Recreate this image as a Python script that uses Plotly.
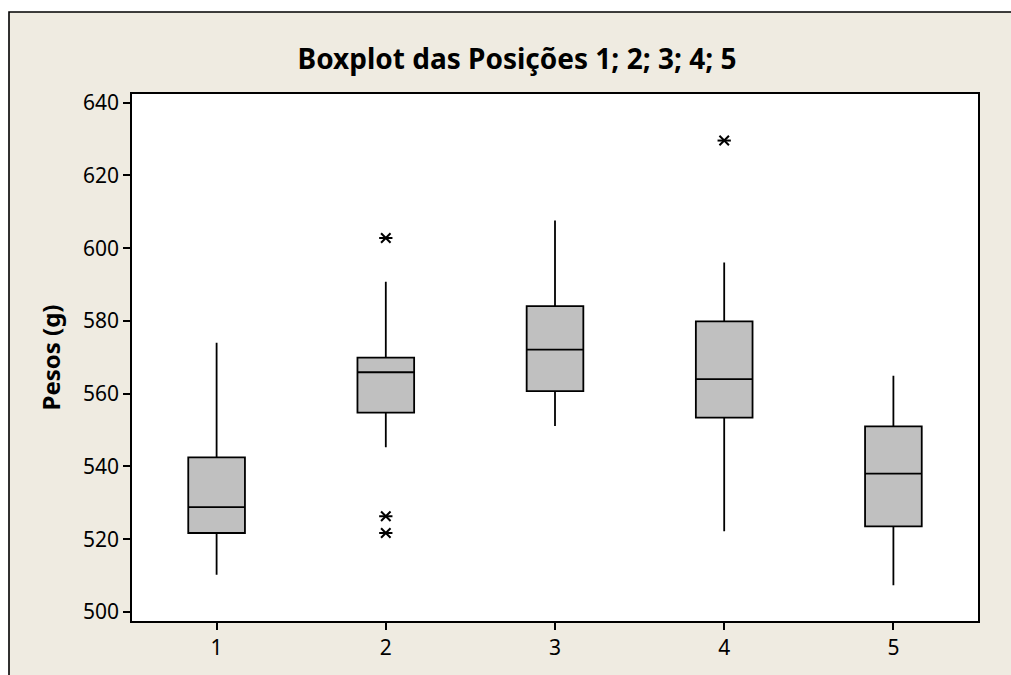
import plotly.graph_objects as go

# ---- data ----
positions = [1, 2, 3, 4, 5]
q1 = [521.7, 554.8, 560.7, 553.4, 523.5]
median = [528.8, 565.9, 572.1, 564.0, 538.0]
q3 = [542.5, 569.9, 584.1, 579.9, 551.0]
lower_whisker = [510.2, 545.3, 551.1, 522.2, 507.3]
upper_whisker = [574.0, 590.8, 607.6, 596.1, 564.9]
outlier_x = [2, 2, 2, 4]
outlier_y = [602.8, 526.3, 521.7, 629.6]
y_ticks = [500, 520, 540, 560, 580, 600, 620, 640]

TITLE = "Boxplot das Posições 1; 2; 3; 4; 5"
YTITLE = "Pesos (g)"

FONT = "Noto Sans"
BEIGE = "#EFEBE1"

W, H = 1011, 675
ML, MR, MT, MB = 132, 33, 94, 54
PW, PH = W - ML - MR, H - MT - MB


def px_x(px):
    return (px - ML) / PW


def px_y(py):
    return (H - MB - py) / PH


fig = go.Figure()

fig.add_trace(go.Box(
    x=positions,
    q1=q1,
    median=median,
    q3=q3,
    lowerfence=lower_whisker,
    upperfence=upper_whisker,
    boxpoints=False,
    fillcolor="#C0C0C0",
    line=dict(color="black", width=1.8),
    whiskerwidth=0,
    width=0.335,
    showlegend=False,
    hoverinfo="skip",
))

# asterisk outliers: X + horizontal stroke
for sym in ["x-thin-open", "line-ew-open"]:
    fig.add_trace(go.Scatter(
        x=outlier_x, y=outlier_y, mode="markers",
        marker=dict(symbol=sym, size=9.5, color="black",
                    line=dict(color="black", width=2)),
        showlegend=False, hoverinfo="skip",
    ))

shapes = [
    # white margin strips outside the outer frame
    dict(type="rect", xref="paper", yref="paper", x0=px_x(0), x1=px_x(9), y0=px_y(H), y1=px_y(0),
         fillcolor="white", line=dict(width=0), layer="below"),
    dict(type="rect", xref="paper", yref="paper", x0=px_x(0), x1=px_x(W), y0=px_y(12), y1=px_y(0),
         fillcolor="white", line=dict(width=0), layer="below"),
    # outer frame lines (left and top only)
    dict(type="path", xref="paper", yref="paper",
         path=f"M {px_x(9)},{px_y(H)} L {px_x(9)},{px_y(12)} L {px_x(W)},{px_y(12)}",
         line=dict(color="black", width=1.6)),
]

fig.update_layout(
    width=W, height=H,
    margin=dict(l=ML, r=MR, t=MT, b=MB),
    paper_bgcolor=BEIGE,
    plot_bgcolor="white",
    font=dict(family=FONT, size=21, color="black"),
    title=dict(text="<b>" + TITLE + "</b>", x=517 / W, xref="container",
               xanchor="center", y=1 - 59 / H, yref="container", yanchor="middle",
               font=dict(family=FONT, size=28, color="black")),
    shapes=shapes,
    xaxis=dict(
        range=[0.5, 5.5], tickmode="array", tickvals=positions,
        ticktext=[str(p) for p in positions],
        showline=True, mirror=True, linecolor="black", linewidth=1.6,
        ticks="outside", ticklen=7, tickwidth=1.6, tickcolor="black",
        showgrid=False, zeroline=False,
        tickfont=dict(family=FONT, size=21),
    ),
    yaxis=dict(
        range=[497.5, 642.4], tickmode="array", tickvals=y_ticks,
        showline=True, mirror=True, linecolor="black", linewidth=1.6,
        ticks="outside", ticklen=7, tickwidth=1.6, tickcolor="black",
        showgrid=False, zeroline=False,
        tickfont=dict(family=FONT, size=21),
        title=dict(text="<b>" + YTITLE + "</b>", standoff=16,
                   font=dict(family=FONT, size=24)),
    ),
)

fig.write_html(
    "out.html",
    config={"displayModeBar": False},
    post_script=(
        "document.documentElement.style.margin='0';"
        "document.documentElement.style.padding='0';"
        "document.documentElement.style.overflow='hidden';"
        "document.body.style.margin='0';document.body.style.padding='0';"
        "document.body.style.overflow='hidden';"
        "document.body.style.background='" + BEIGE + "';"
    ),
)
